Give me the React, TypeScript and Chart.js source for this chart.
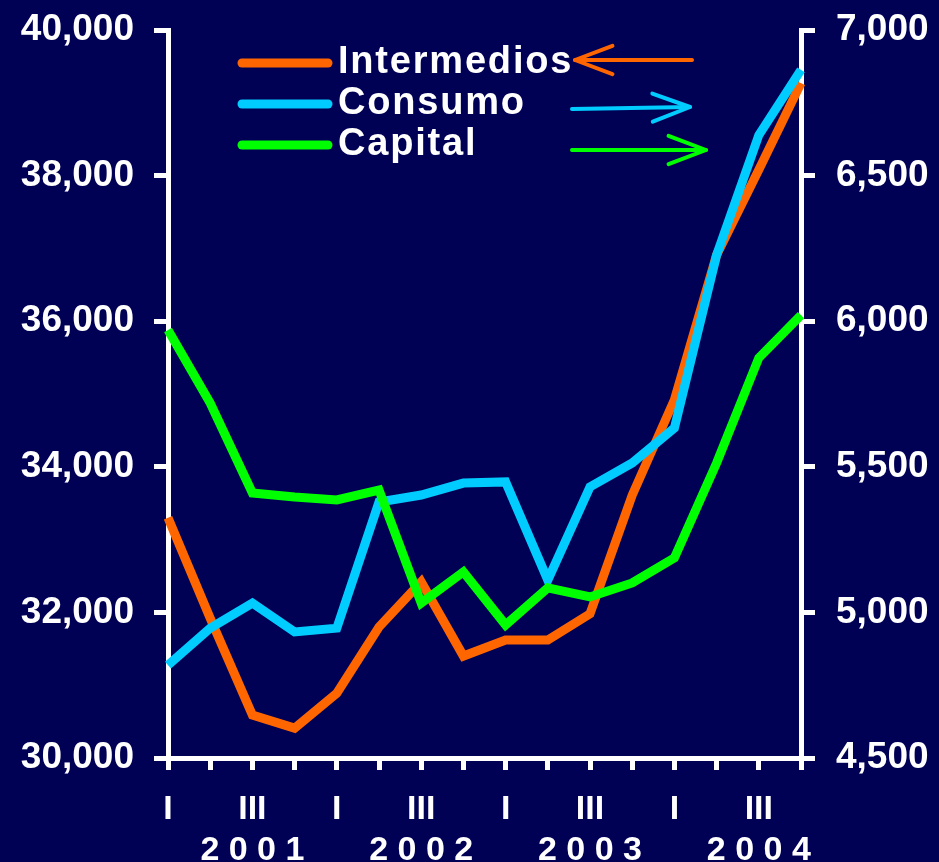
import React, { useEffect, useRef } from 'react';
import { Chart, registerables } from 'chart.js';

Chart.register(...registerables);

const quarters = ['I', 'II', 'III', 'IV', 'I', 'II', 'III', 'IV', 'I', 'II', 'III', 'IV', 'I', 'II', 'III', 'IV'];
const years = ['2 0 0 1', '2 0 0 2', '2 0 0 3', '2 0 0 4'];

// Left axis (Intermedios)
const intermedios = [33300, 31920, 30590, 30410, 30890, 31800, 32420, 31400, 31620, 31620, 31980, 33610, 34920, 36910, 38080, 39270];
// Right axis (Consumo, Capital)
const consumo = [4819, 4946, 5032, 4933, 4946, 5379, 5403, 5444, 5448, 5111, 5431, 5513, 5633, 6227, 6639, 6863];
const capital = [5970, 5719, 5410, 5396, 5386, 5420, 5032, 5139, 4957, 5084, 5053, 5101, 5187, 5513, 5874, 6021];

const leftMin = 30000;
const leftMax = 40000;
const leftStep = 2000;
const rightMin = 4500;
const rightMax = 7000;
const rightStep = 500;

const seriesNames = ['Intermedios', 'Consumo', 'Capital'];
const seriesColors = ['#FF6600', '#00CCFF', '#00FF00'];

const BG = '#000055';
const FONT = '"Liberation Sans", Arial, Helvetica, sans-serif';

const labels = quarters.map((q, i) => {
  const shown = q === 'I' || q === 'III' ? q : '';
  const yr = q === 'III' ? years[Math.floor(i / 4)] : '';
  return [shown, yr];
});

const bgPlugin = {
  id: 'bgFill',
  beforeDraw(chart: any) {
    const ctx = chart.ctx;
    ctx.save();
    ctx.fillStyle = BG;
    ctx.fillRect(0, 0, chart.width, chart.height);
    ctx.restore();
  },
};

function arrow(ctx: CanvasRenderingContext2D, x1: number, y1: number, x2: number, y2: number, color: string) {
  ctx.strokeStyle = color;
  ctx.lineWidth = 4;
  ctx.lineCap = 'round';
  ctx.lineJoin = 'round';
  ctx.beginPath();
  ctx.moveTo(x1, y1);
  ctx.lineTo(x2, y2);
  ctx.stroke();
  const ang = Math.atan2(y2 - y1, x2 - x1);
  const len = 40;
  const spread = 0.36;
  ctx.beginPath();
  ctx.moveTo(x2 - len * Math.cos(ang - spread), y2 - len * Math.sin(ang - spread));
  ctx.lineTo(x2, y2);
  ctx.lineTo(x2 - len * Math.cos(ang + spread), y2 - len * Math.sin(ang + spread));
  ctx.stroke();
}

const legendPlugin = {
  id: 'customLegend',
  afterDraw(chart: any) {
    const ctx = chart.ctx as CanvasRenderingContext2D;
    ctx.save();
    const rowY = [63, 104, 145];
    chart.data.datasets.forEach((ds: any, i: number) => {
      const y = rowY[i];
      ctx.strokeStyle = ds.borderColor;
      ctx.lineWidth = 9;
      ctx.lineCap = 'round';
      ctx.beginPath();
      ctx.moveTo(242, y);
      ctx.lineTo(328, y);
      ctx.stroke();
      ctx.fillStyle = '#ffffff';
      ctx.font = `bold 38px ${FONT}`;
      ctx.textBaseline = 'middle';
      ctx.textAlign = 'left';
      (ctx as any).letterSpacing = '1.8px';
      ctx.fillText(ds.label, 338, y);
      (ctx as any).letterSpacing = '0px';
    });
    arrow(ctx, 692, 60, 575, 60, seriesColors[0]);
    arrow(ctx, 572, 109, 690, 107, seriesColors[1]);
    arrow(ctx, 572, 150, 706, 150, seriesColors[2]);
    ctx.restore();
  },
};

const zeroVPad = (s: any) => {
  s.paddingTop = 0;
  s.paddingBottom = 0;
};

export default function App() {
  const ref = useRef<HTMLCanvasElement | null>(null);

  useEffect(() => {
    document.body.style.margin = '0';
    document.body.style.background = BG;
    const canvas = ref.current;
    if (!canvas) return;
    const chart = new Chart(canvas, {
      type: 'line',
      data: {
        labels,
        datasets: [
          {
            label: seriesNames[0],
            data: intermedios,
            borderColor: seriesColors[0],
            backgroundColor: seriesColors[0],
            borderWidth: 9,
            pointRadius: 0,
            tension: 0,
            yAxisID: 'yL',
            order: 3,
            borderJoinStyle: 'miter',
          },
          {
            label: seriesNames[1],
            data: consumo,
            borderColor: seriesColors[1],
            backgroundColor: seriesColors[1],
            borderWidth: 9,
            pointRadius: 0,
            tension: 0,
            yAxisID: 'yR',
            order: 2,
            borderJoinStyle: 'miter',
          },
          {
            label: seriesNames[2],
            data: capital,
            borderColor: seriesColors[2],
            backgroundColor: seriesColors[2],
            borderWidth: 9,
            pointRadius: 0,
            tension: 0,
            yAxisID: 'yR',
            order: 1,
            borderJoinStyle: 'miter',
          },
        ],
      },
      options: {
        responsive: false,
        animation: false,
        devicePixelRatio: 1,
        layout: { padding: { top: 30, left: 0, right: 0, bottom: 0 } },
        plugins: {
          legend: { display: false },
          tooltip: { enabled: false },
        },
        scales: {
          x: {
            type: 'category',
            offset: false,
            afterFit: (s: any) => {
              s.height = 104;
              s.paddingLeft = 0;
              s.paddingRight = 0;
            },
            grid: {
              drawOnChartArea: false,
              drawTicks: true,
              tickLength: 12,
              color: '#ffffff',
              lineWidth: 5,
              offset: false,
            },
            border: { color: '#ffffff', width: 5 },
            ticks: {
              autoSkip: false,
              maxRotation: 0,
              minRotation: 0,
              color: '#ffffff',
              padding: 19,
              font: { family: FONT, size: 34, weight: 'bold', lineHeight: 41 / 34 },
            },
          },
          yL: {
            type: 'linear',
            position: 'left',
            min: leftMin,
            max: leftMax,
            afterFit: (s: any) => {
              s.width = 168;
              zeroVPad(s);
            },
            grid: {
              drawOnChartArea: false,
              tickLength: 14,
              color: '#ffffff',
              lineWidth: 5,
            },
            border: { color: '#ffffff', width: 5 },
            ticks: {
              stepSize: leftStep,
              color: '#ffffff',
              padding: 20,
              font: { family: FONT, size: 37, weight: 'bold' },
              callback: (v: any) => Number(v).toLocaleString('en-US'),
            },
          },
          yR: {
            type: 'linear',
            position: 'right',
            min: rightMin,
            max: rightMax,
            afterFit: (s: any) => {
              s.width = 138;
              zeroVPad(s);
            },
            grid: {
              drawOnChartArea: false,
              tickLength: 14,
              color: '#ffffff',
              lineWidth: 5,
            },
            border: { color: '#ffffff', width: 5 },
            ticks: {
              stepSize: rightStep,
              color: '#ffffff',
              padding: 21,
              font: { family: FONT, size: 37, weight: 'bold' },
              callback: (v: any) => Number(v).toLocaleString('en-US'),
            },
          },
        },
      },
      plugins: [bgPlugin, legendPlugin],
    } as any);
    return () => chart.destroy();
  }, []);

  return (
    <div style={{ width: 939, height: 862, background: BG }}>
      <canvas ref={ref} width={939} height={862} style={{ display: 'block', width: 939, height: 862 }} />
    </div>
  );
}
